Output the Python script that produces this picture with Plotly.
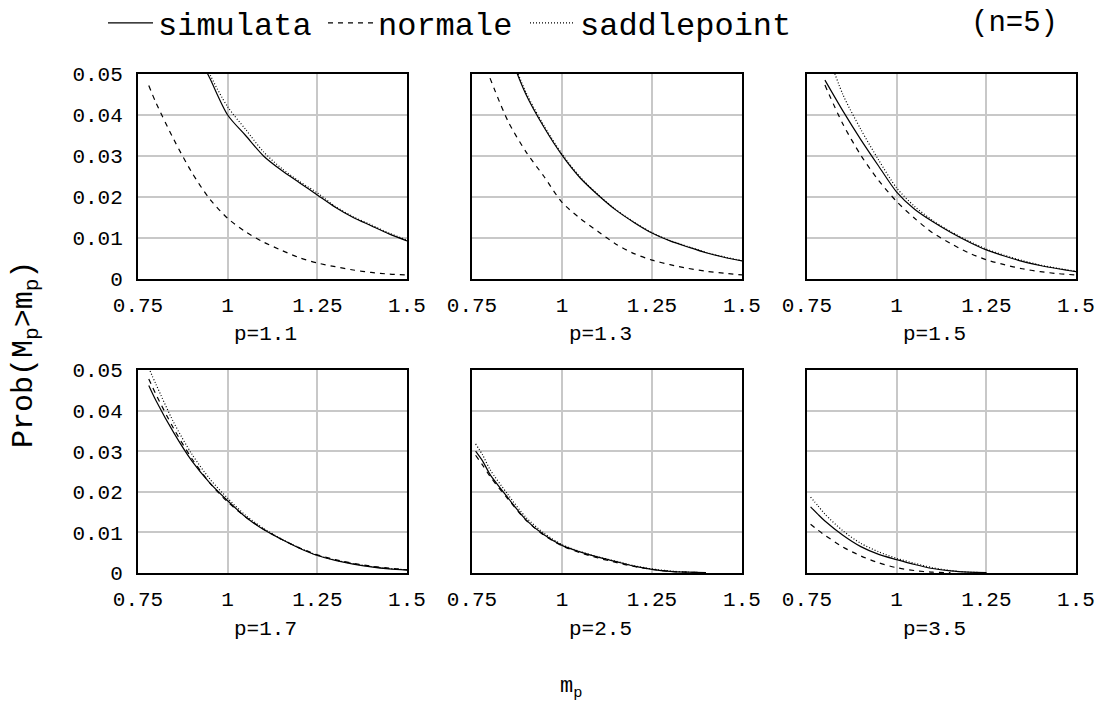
import plotly.graph_objects as go

# the page's default 8px body margin is removed (see post_script), so the
# figure fills the 1096x702 window exactly
OFF = 0
W, H = 1096, 702
FONT = "Liberation Mono"

m_vals = [0.76, 0.78, 0.80, 0.85, 0.90, 0.95, 1.00, 1.05, 1.10, 1.15, 1.20, 1.25, 1.30, 1.35, 1.40, 1.45, 1.50]

panel_titles = ["p=1.1", "p=1.3", "p=1.5", "p=1.7", "p=2.5", "p=3.5"]

# simulata
sim_p11 = [0.092, 0.086, 0.080, 0.068, 0.058, 0.049, 0.040, 0.035, 0.030, 0.0265, 0.0235, 0.0205, 0.0175, 0.0150, 0.0130, 0.0110, 0.0093]
sim_p13 = [0.083, 0.076, 0.069, 0.056, 0.045, 0.037, 0.0302, 0.0247, 0.0205, 0.0168, 0.0138, 0.0112, 0.0093, 0.0078, 0.0064, 0.0053, 0.0044]
sim_p15 = [None, None, 0.0485, 0.041, 0.034, 0.0275, 0.0212, 0.0170, 0.0140, 0.0114, 0.0091, 0.0071, 0.0056, 0.0043, 0.0033, 0.0025, 0.0018]
sim_p17 = [None, 0.0462, 0.0425, 0.0345, 0.0276, 0.0222, 0.0178, 0.0138, 0.0107, 0.0083, 0.0061, 0.0043, 0.0031, 0.0022, 0.0015, 0.0010, 0.0007]
sim_p25 = [0.0300, 0.0275, 0.0243, 0.0185, 0.0131, 0.0094, 0.0068, 0.0052, 0.0039, 0.0028, 0.0017, 0.0009, 0.0004, 0.0002, 0.0001, None, None]
sim_p35 = [0.0163, 0.0145, 0.0128, 0.0093, 0.0065, 0.0046, 0.0033, 0.0021, 0.0011, 0.0005, 0.0002, 0.0001, None, None, None, None, None]

# normale
nor_p11 = [None, 0.0472, 0.043, 0.034, 0.026, 0.0195, 0.0148, 0.0115, 0.0090, 0.0070, 0.0052, 0.0039, 0.0030, 0.0022, 0.0016, 0.0012, 0.0010]
nor_p13 = [None, None, 0.049, 0.0385, 0.031, 0.025, 0.0187, 0.0148, 0.0116, 0.0085, 0.0062, 0.0046, 0.0035, 0.0026, 0.0019, 0.0014, 0.0010]
nor_p15 = [None, None, 0.0473, 0.0378, 0.0302, 0.0240, 0.0189, 0.0148, 0.0113, 0.0087, 0.0064, 0.0047, 0.0035, 0.0025, 0.0018, 0.0013, 0.0010]
nor_p17 = [None, 0.0478, 0.044, 0.0355, 0.0282, 0.0222, 0.0175, 0.0138, 0.0108, 0.0083, 0.0062, 0.0045, 0.0033, 0.0024, 0.0017, 0.0012, 0.0008]
nor_p25 = [0.0290, 0.0265, 0.0238, 0.0182, 0.0130, 0.0093, 0.0067, 0.0050, 0.0037, 0.0026, 0.0016, 0.0009, 0.0004, 0.0002, 0.0001, None, None]
nor_p35 = [0.0120, 0.0106, 0.0093, 0.0064, 0.0042, 0.0025, 0.0013, 0.0006, 0.0002, 0.0001, None, None, None, None, None, None, None]

# saddlepoint
sad_p11 = [0.098, 0.091, 0.085, 0.072, 0.061, 0.050, 0.042, 0.0365, 0.031, 0.027, 0.0238, 0.0210, 0.0177, 0.0152, 0.0132, 0.0112, 0.0095]
sad_p13 = [0.085, 0.078, 0.070, 0.0565, 0.0455, 0.0374, 0.0305, 0.0249, 0.0206, 0.0169, 0.0139, 0.0113, 0.0094, 0.0079, 0.0065, 0.0054, 0.0045]
sad_p15 = [None, None, 0.057, 0.045, 0.0365, 0.029, 0.0222, 0.0177, 0.0143, 0.0116, 0.0093, 0.0073, 0.0058, 0.0045, 0.0034, 0.0026, 0.0019]
sad_p17 = [None, 0.0505, 0.0465, 0.037, 0.0293, 0.0232, 0.0184, 0.0142, 0.0110, 0.0084, 0.0062, 0.0044, 0.0032, 0.0023, 0.0016, 0.0011, 0.0008]
sad_p25 = [0.0318, 0.0290, 0.0255, 0.0193, 0.0137, 0.0098, 0.0070, 0.0053, 0.0040, 0.0029, 0.0018, 0.0010, 0.0005, 0.0002, 0.0001, None, None]
sad_p35 = [0.0187, 0.0166, 0.0145, 0.0104, 0.0073, 0.0052, 0.0036, 0.0024, 0.0013, 0.0006, 0.0002, 0.0001, None, None, None, None, None]

simulata = [sim_p11, sim_p13, sim_p15, sim_p17, sim_p25, sim_p35]
normale = [nor_p11, nor_p13, nor_p15, nor_p17, nor_p25, nor_p35]
saddle = [sad_p11, sad_p13, sad_p15, sad_p17, sad_p25, sad_p35]

x_tickvals = [0.75, 1.0, 1.25, 1.5]
x_ticktext = ["0.75", "1", "1.25", "1.5"]
y_tickvals = [0, 0.01, 0.02, 0.03, 0.04, 0.05]
y_ticktext = ["0", "0.01", "0.02", "0.03", "0.04", "0.05"]

# panel layout in window pixels
col_px = [(138, 407), (472, 742), (807, 1076)]
row_px = [(74, 279), (370, 573)]


def px_x(px):
    return (px - OFF) / W


def px_y(py):
    return 1 - (py - OFF) / H


fig = go.Figure()

series_specs = [
    ("simulata", simulata, "solid"),
    ("normale", normale, "5px,5px"),
    ("saddlepoint", saddle, "1px,2px"),
]
legend_widths = {"simulata": 160, "normale": 142, "saddlepoint": 220}

for i in range(6):
    r, c = divmod(i, 3)
    xa = "x" if i == 0 else f"x{i+1}"
    ya = "y" if i == 0 else f"y{i+1}"
    for name, data, dash in series_specs:
        fig.add_trace(go.Scatter(
            x=m_vals, y=data[i], mode="lines", name=name,
            line=dict(color="black", width=1.2, dash=dash, shape="spline", smoothing=0.8),
            xaxis=xa, yaxis=ya, showlegend=(i == 0), legendwidth=legend_widths[name],
            hoverinfo="skip",
        ))
    xd = [px_x(col_px[c][0]), px_x(col_px[c][1])]
    yd = [px_y(row_px[r][1]), px_y(row_px[r][0])]
    axcommon = dict(showgrid=True, gridcolor="#c8c8c8", gridwidth=1.5, zeroline=False,
                    showline=True, linecolor="black", linewidth=2, mirror=True, ticks="",
                    ticklabeloverflow="allow")
    fig.layout[("xaxis" if i == 0 else f"xaxis{i+1}")] = dict(
        domain=xd, range=[0.75, 1.5], anchor=ya, tickvals=x_tickvals, ticktext=x_ticktext,
        ticklabelstandoff=6, tickfont=dict(family=FONT, size=21, color="black"), **axcommon)
    fig.layout[("yaxis" if i == 0 else f"yaxis{i+1}")] = dict(
        domain=yd, range=[0, 0.05], anchor=xa, tickvals=y_tickvals, ticktext=y_ticktext,
        showticklabels=(c == 0), ticklabelstandoff=9,
        tickfont=dict(family=FONT, size=21, color="black"), **axcommon)
    fig.add_annotation(
        text=panel_titles[i], xref="paper", yref="paper",
        x=px_x((col_px[c][0] + col_px[c][1]) / 2 - 7), y=px_y(row_px[r][1] + 56),
        showarrow=False, xanchor="center", yanchor="middle",
        font=dict(family=FONT, size=21, color="black"))

fig.add_annotation(text="Prob(M<sub>p</sub>>m<sub>p</sub>)", xref="paper", yref="paper",
                   x=px_x(25), y=px_y(355), textangle=-90, showarrow=False,
                   xanchor="center", yanchor="middle",
                   font=dict(family=FONT, size=30, color="black"))
fig.add_annotation(text="m<sub>p</sub>", xref="paper", yref="paper",
                   x=px_x(571), y=px_y(688), showarrow=False,
                   xanchor="center", yanchor="middle",
                   font=dict(family=FONT, size=22, color="black"))
fig.add_annotation(text="(n=5)", xref="paper", yref="paper",
                   x=px_x(1014), y=px_y(24), showarrow=False,
                   xanchor="center", yanchor="middle",
                   font=dict(family=FONT, size=29, color="black"))

fig.update_layout(
    width=W, height=H, margin=dict(l=0, r=0, t=0, b=0, autoexpand=False),
    paper_bgcolor="white", plot_bgcolor="white",
    showlegend=True,
    legend=dict(orientation="h", x=px_x(103), y=px_y(23), xanchor="left", yanchor="middle",
                font=dict(family=FONT, size=32, color="black"),
                itemwidth=45, tracegroupgap=0, bgcolor="rgba(0,0,0,0)"),
)

fig.write_html("out.html",
               config={"displayModeBar": False},
               post_script="document.body.style.margin='0';"
                           "document.body.style.overflow='hidden';")
